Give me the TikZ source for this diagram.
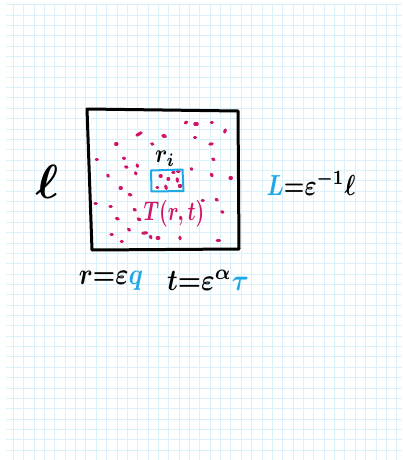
\documentclass[tikz,border=0pt]{standalone}
\usepackage{amsmath}
\usepackage{bm}
\definecolor{gridc}{RGB}{218,241,249}
\definecolor{dotc}{RGB}{208,20,104}
\definecolor{bluec}{RGB}{30,168,230}
\tikzset{
  gridline/.style={gridc, line width=0.75pt},
  boxline/.style={line width=3pt, line join=round, line cap=round},
  dotmark/.style={dotc, line width=3.1pt, line cap=round},
  cellbox/.style={bluec, line width=2pt, line join=round},
  lbl/.style={inner sep=0pt, outer sep=0pt, font=\boldmath}
}
\begin{document}
\begin{tikzpicture}[x=1pt,y=-1pt]
\useasboundingbox (0,0) rectangle (402,460);
\fill[white] (0,0) rectangle (402,460);
\begin{scope}
\clip (6,4.6) rectangle (402,460);
\foreach \i in {0,...,38} \draw[gridline] (13.3+10.36*\i,0) -- ++(0,460);
\foreach \j in {0,...,44} \draw[gridline] (0,4.6+10.36*\j) -- ++(402,0);
\end{scope}
% outer box
\draw[boxline] (87,109) -- (238,111) -- (239,249) -- (92,250) -- cycle;
% dots
\foreach \x/\y/\a/\l in {
 139/134/-30/5, 116.3/144/0/1.4, 152.3/144/20/1.4, 163.5/136/30/2, 96.7/159.3/0/1.2,
 124/158.3/20/1.4, 126.3/167/20/1.6, 137.3/165.7/70/1.6, 135.7/173.3/70/1.4, 108/175.7/60/1.6,
 186/122.5/-30/1.8, 196/124/0/2.4, 211.7/122.5/0/1.2, 225/131/-70/2.4, 164.7/136/40/2,
 195/137.7/0/1.2, 211/144/-10/2.4, 213.3/159.3/30/1.6, 191.5/169/40/1.2, 211.7/175/60/2,
 230.7/178/0/1.4, 120.7/188/0/1.2, 130/194.7/20/2, 95.7/203.7/0/1.4, 110.7/206.3/0/1.4,
 134.7/209.7/30/1.6, 117.3/218.7/20/2, 139/219.3/30/2.2, 129/229.7/40/1.6, 111.7/234.7/0/1.4,
 121.7/241.3/0/1.2, 144.7/233/-5/4, 150.7/237/70/1.8, 158/238/0/1.6, 202.7/200.7/0/1.2,
 216.7/199.7/30/1.6, 222.3/212/30/1.6, 180/238/80/1.6, 218.3/240.3/0/2.4,
 160.7/176/0/1, 168.3/179/0/0.8, 177.3/180/80/2.6, 173.3/172.3/0/1.4, 178.3/171.7/0/1.6,
 157.3/187.3/0/1, 166/187.3/75/2.6, 180/186/0/1.4}
 \draw[dotmark] (\x,\y) ++(\a:-\l/2) -- ++(\a:\l);
% blue cell
\draw[cellbox] (151,170.5) -- (182.5,169.5) -- (183.5,191) -- (151.5,191.5) -- cycle;
% labels
\node[lbl, xscale=2.2, yscale=2.6] (ri) at (165,159) {$r_{i}$};
\node[lbl, xscale=1.95, yscale=2.7, text=dotc] (T) at (174,214) {$T(r,t)$};
\node[lbl, scale=4.8] (ell) at (47,182) {$\ell$};
\node[lbl, xscale=2.3, yscale=2.9] (L) at (311,183) {$\textcolor{bluec}{L}{=}\varepsilon^{-1}\ell$};
\node[lbl, xscale=2.5, yscale=3] (rq) at (111,281) {$r{=}\varepsilon\textcolor{bluec}{q}$};
\node[lbl, xscale=2.6, yscale=3] (tt) at (208,280) {$t{=}\varepsilon^{\alpha}\textcolor{bluec}{\tau}$};
\end{tikzpicture}
\end{document}
